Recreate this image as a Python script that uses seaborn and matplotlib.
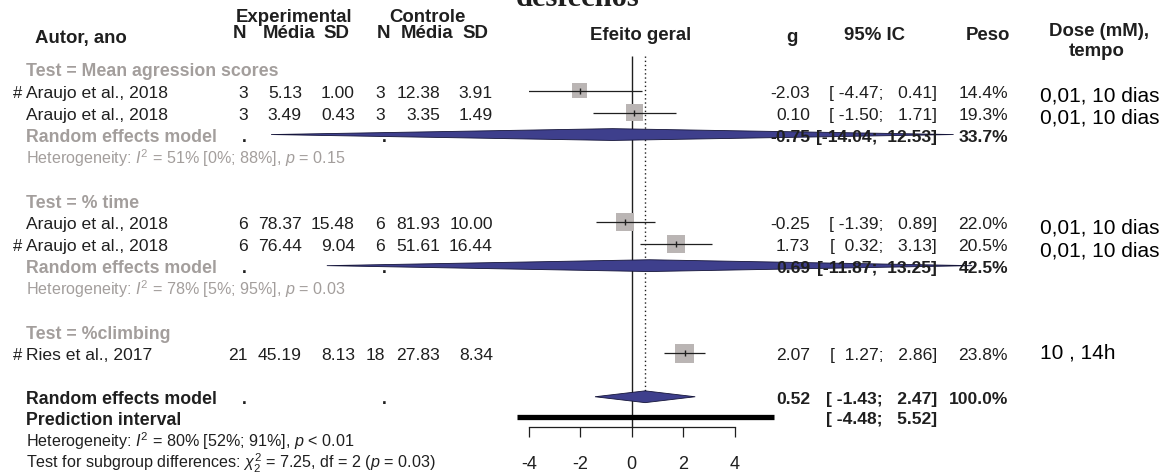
import matplotlib
matplotlib.use("Agg")
import matplotlib.pyplot as plt
import seaborn as sns
import pandas as pd

sns.set_theme(style="white")
plt.rcParams['font.family'] = ['Liberation Sans', 'DejaVu Sans']
plt.rcParams['mathtext.fontset'] = 'custom'
plt.rcParams['mathtext.rm'] = 'Liberation Sans'
plt.rcParams['mathtext.it'] = 'Liberation Sans:italic'
plt.rcParams['mathtext.bf'] = 'Liberation Sans:bold'
plt.rcParams['axes.unicode_minus'] = False

# ---------------- data ----------------
studies = ["Araujo et al., 2018", "Araujo et al., 2018", "Araujo et al., 2018",
           "Araujo et al., 2018", "Ries et al., 2017"]
flags = ["#", "", "", "#", "#"]
n_e = [3, 3, 6, 6, 21]
mean_e = [5.13, 3.49, 78.37, 76.44, 45.19]
sd_e = [1.00, 0.43, 15.48, 9.04, 8.13]
n_c = [3, 3, 6, 6, 18]
mean_c = [12.38, 3.35, 81.93, 51.61, 27.83]
sd_c = [3.91, 1.49, 10.00, 16.44, 8.34]
g_vals = [-2.03, 0.10, -0.25, 1.73, 2.07]
ci_lo = [-4.47, -1.50, -1.39, 0.32, 1.27]
ci_hi = [0.41, 1.71, 0.89, 3.13, 2.86]
weights = [14.4, 19.3, 22.0, 20.5, 23.8]
doses = ["0,01, 10 dias", "0,01, 10 dias", "0,01, 10 dias", "0,01, 10 dias", "10 , 14h"]

group_titles = ["Test = Mean agression scores", "Test = % time", "Test = %climbing"]
group_g = [-0.75, 0.69]
group_lo = [-14.04, -11.87]
group_hi = [12.53, 13.25]
group_w = [33.7, 42.5]
group_i2 = [51, 78]
group_i2_lo = [0, 5]
group_i2_hi = [88, 95]
group_p = [0.15, 0.03]

overall_g = 0.52
overall_lo = -1.43
overall_hi = 2.47
overall_w = 100.0
pred_lo = -4.48
pred_hi = 5.52
overall_i2, overall_i2_lo, overall_i2_hi = 80, 52, 91
sub_q, sub_df, sub_p = 7.25, 2, 0.03

x_ticks = [-4, -2, 0, 2, 4]
x_tick_labels = ["-4", "-2", "0", "2", "4"]

# ---------------- layout ----------------
study_rows = [1, 2, 7, 8, 13]
title_rows = [0, 6, 12]
group_re_rows = [3, 9]
group_het_rows = [4, 10]
overall_row = 15
pred_row = 16

W, H = 1170, 477
def r(py):  # pixel y -> row units
    return (py - 70) / 21.85

BLACK = '#1f1f1f'
GRAY = '#a39e9c'
DIAMOND = '#3e3f8c'

fig = plt.figure(figsize=(W / 100, H / 100), dpi=100)
fig.patch.set_facecolor('white')

ylim = (r(H), r(0))
ax = fig.add_axes([529 / W, 0, (734.5 - 529) / W, 1])
ax.set_xlim(-4, 4)
ax.set_ylim(*ylim)
ax.patch.set_alpha(0)
for s in ['top', 'left', 'right']:
    ax.spines[s].set_visible(False)
ax.spines['bottom'].set_position(('data', r(428)))
ax.spines['bottom'].set_bounds(-4, 4)
ax.spines['bottom'].set_color(BLACK)
ax.spines['bottom'].set_linewidth(0.9)
ax.set_xticks(x_ticks)
ax.set_xticklabels(x_tick_labels)
ax.set_yticks([])
ax.tick_params(axis='x', bottom=True, direction='out', length=7.5, width=0.9,
               color=BLACK, pad=13, labelsize=13, labelcolor=BLACK)

# reference lines
ax.vlines(0, r(57), r(428), color=BLACK, lw=1.0, zorder=1)
ax.vlines(overall_g, r(57), overall_row - 0.27, color=BLACK, lw=1.0,
          linestyles=(0, (1, 2)), zorder=1)

# study squares
df = pd.DataFrame({"g": g_vals, "row": study_rows, "w": weights})
sns.scatterplot(data=df, x="g", y="row", size="w", sizes=(0, 788.5),
                size_norm=(0, 100), marker="s", color="#bab5b4",
                edgecolor="none", legend=False, ax=ax, zorder=2)
ax.set_xlabel("")
ax.set_ylabel("")
ax.hlines(study_rows, ci_lo, ci_hi, color=BLACK, lw=0.9, zorder=3)
ax.plot(g_vals, study_rows, linestyle="none", marker="|", markersize=5,
        markeredgewidth=1.0, color=BLACK, zorder=4)

# diamonds
h = 0.27
def diamond(est, lo, hi, row):
    ax.fill([lo, est, hi, est], [row, row - h, row, row + h],
            facecolor=DIAMOND, edgecolor='#15153a', lw=0.6,
            clip_on=False, zorder=3)

for est, lo, hi, row in zip(group_g, group_lo, group_hi, group_re_rows):
    diamond(est, lo, hi, row)
diamond(overall_g, overall_lo, overall_hi, overall_row)

# prediction interval
ax.hlines(pred_row - 0.08, pred_lo, pred_hi, color='black', lw=3.8,
          clip_on=False, zorder=3)

# ---------------- text overlay ----------------
tx = fig.add_axes([0, 0, 1, 1])
tx.set_xlim(0, W)
tx.set_ylim(*ylim)
tx.axis('off')
tx.patch.set_alpha(0)

FS = 12.6
FSH = 13.4
FSHET = 11.6

def T(x, y, s, ha='left', size=FS, color=BLACK, weight='normal', **kw):
    tx.text(x, y, s, ha=ha, va='center_baseline', fontsize=size,
            color=color, fontweight=weight, **kw)

# partial title at top (cut by the figure edge, as in the reference)
tx.text(578, r(5.5), "desfechos", ha='center', va='baseline', fontsize=22,
        fontfamily='Liberation Serif', fontweight='bold', color=BLACK)

# headers
T(294, r(15), "Experimental", ha='center', size=FSH, weight='bold')
T(427, r(15), "Controle", ha='center', size=FSH, weight='bold')
T(240, r(31), "N", ha='center', size=FSH, weight='bold')
T(289, r(31), "Média", ha='center', size=FSH, weight='bold')
T(336, r(31), "SD", ha='center', size=FSH, weight='bold')
T(383, r(31), "N", ha='center', size=FSH, weight='bold')
T(427, r(31), "Média", ha='center', size=FSH, weight='bold')
T(475, r(31), "SD", ha='center', size=FSH, weight='bold')
T(35, r(36), "Autor, ano", size=FSH, weight='bold')
T(641, r(34), "Efeito geral", ha='center', size=FSH, weight='bold')
T(792, r(36), "g", ha='center', size=FSH, weight='bold')
T(875, r(34), "95% IC", ha='center', size=FSH, weight='bold')
T(1010, r(34), "Peso", ha='right', size=FSH, weight='bold')
T(1099, r(29), "Dose (mM),", ha='center', size=FSH, weight='bold')
T(1097, r(50), "tempo", ha='center', size=FSH, weight='bold')

# group titles
for title, row in zip(group_titles, title_rows):
    T(26, row, title, color=GRAY, weight='bold', size=12.8)

def ci_text(lo, hi):
    # R/meta style: both bounds padded to a common width of 6
    return f"[{lo:6.2f}; {hi:6.2f}]"

# studies
dose_dy = [0.12, 0.12, 0.15, 0.2, -0.15]
for i, row in enumerate(study_rows):
    if flags[i]:
        T(22.5, row, flags[i], ha='right', size=12)
    T(26, row, studies[i])
    T(248, row, f"{n_e[i]}", ha='right')
    T(302, row, f"{mean_e[i]:.2f}", ha='right')
    T(355, row, f"{sd_e[i]:.2f}", ha='right')
    T(385, row, f"{n_c[i]}", ha='right')
    T(440, row, f"{mean_c[i]:.2f}", ha='right')
    T(493, row, f"{sd_c[i]:.2f}", ha='right')
    T(810, row, f"{g_vals[i]:.2f}", ha='right')
    T(937, row, ci_text(ci_lo[i], ci_hi[i]), ha='right')
    T(1008, row, f"{weights[i]:.1f}%", ha='right')
    T(1040, row + dose_dy[i], doses[i], size=15, color='black')

# subgroup random effects rows
for j, row in enumerate(group_re_rows):
    T(26, row, "Random effects model", color=GRAY, weight='bold', size=12.8)
    T(247, row, ".", ha='right', weight='bold')
    T(387, row, ".", ha='right', weight='bold')
    T(810, row, f"{group_g[j]:.2f}", ha='right', weight='bold')
    T(937, row, ci_text(group_lo[j], group_hi[j]), ha='right', weight='bold')
    T(1008, row, f"{group_w[j]:.1f}%", ha='right', weight='bold')
    T(26, group_het_rows[j] - 0.1,
      rf"Heterogeneity: $I^2$ = {group_i2[j]}% [{group_i2_lo[j]}%; {group_i2_hi[j]}%], $p$ = {group_p[j]:.2f}",
      color=GRAY, size=FSHET)

# overall
T(26, overall_row, "Random effects model", weight='bold', size=12.8)
T(247, overall_row, ".", ha='right', weight='bold')
T(387, overall_row, ".", ha='right', weight='bold')
T(810, overall_row, f"{overall_g:.2f}", ha='right', weight='bold')
T(937, overall_row, ci_text(overall_lo, overall_hi), ha='right', weight='bold')
T(1008, overall_row, f"{overall_w:.1f}%", ha='right', weight='bold')
T(26, pred_row - 0.07, "Prediction interval", weight='bold', size=12.8)
T(937, pred_row - 0.07, ci_text(pred_lo, pred_hi), ha='right', weight='bold')
T(26, r(439),
  rf"Heterogeneity: $I^2$ = {overall_i2}% [{overall_i2_lo}%; {overall_i2_hi}%], $p$ < 0.01",
  size=FSHET)
T(26, r(460),
  rf"Test for subgroup differences: $\chi^2_{sub_df}$ = {sub_q:.2f}, df = {sub_df} ($p$ = {sub_p:.2f})",
  size=FSHET)

fig.savefig("out.png", dpi=100, facecolor='white')
